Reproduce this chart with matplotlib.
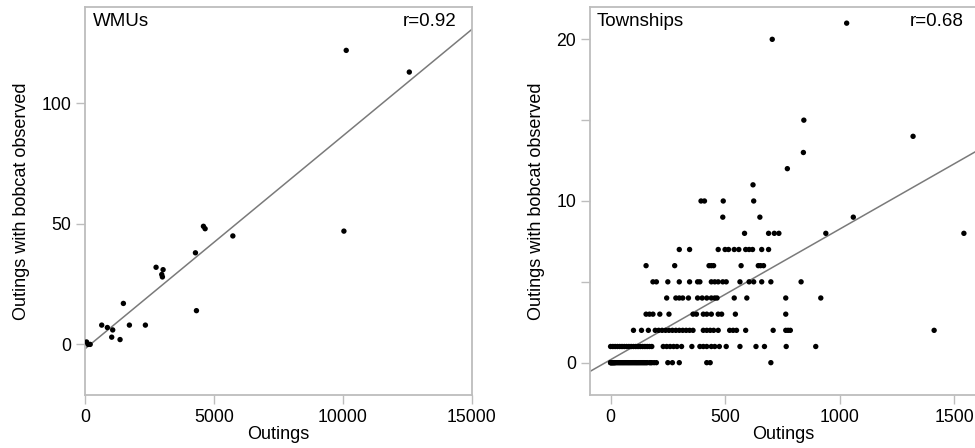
import numpy as np
import matplotlib
matplotlib.use("Agg")
import matplotlib.pyplot as plt

plt.rcParams['font.family'] = ['Liberation Sans', 'DejaVu Sans']
plt.rcParams['font.size'] = 13

# WMUs: outings vs outings with bobcat observed
wmu_x = [10125, 12570, 10035, 4590, 4655, 5730, 4280, 2754, 3026, 2974, 3000,
         1487, 4319, 647, 866, 1073, 1720, 2340, 1034, 1358, 60, 200, 120]
wmu_y = [122, 113, 47, 49, 48, 45, 38, 32, 31, 29, 28,
         17, 14, 8, 7, 6, 8, 8, 3, 2, 1, 0, 0]

# Townships, one list of outings per count of outings with bobcat observed
town_rows = {
    0: [0, 0, 3, 5, 8, 10, 12, 15, 18, 20, 25, 30, 35, 40, 45, 50, 55, 60, 65,
        70, 75, 80, 85, 90, 95, 100, 105, 110, 115, 120, 125, 130, 135, 140,
        145, 150, 155, 160, 170, 175, 180, 190, 200, 250, 270, 300, 420, 435,
        700],
    1: [0, 10, 20, 30, 40, 50, 60, 70, 80, 90, 100, 110, 120, 130, 140, 150,
        160, 170, 180, 230, 245, 260, 275, 290, 310, 355, 390, 405, 420, 440,
        455, 475, 505, 565, 635, 672, 767, 896],
    2: [100, 135, 165, 195, 210, 225, 240, 255, 270, 285, 300, 315, 330, 345,
        360, 405, 420, 435, 450, 470, 520, 535, 550, 590, 710, 765, 775, 785,
        1413],
    3: [155, 170, 185, 215, 255, 360, 375, 405, 420, 440, 470, 485, 545, 765],
    4: [245, 285, 300, 315, 340, 380, 400, 420, 440, 455, 465, 540, 595, 765,
        918],
    5: [185, 200, 250, 300, 345, 380, 390, 440, 455, 470, 490, 505, 565, 605,
        625, 660, 700, 832],
    6: [155, 280, 430, 440, 450, 570, 645, 655, 668],
    7: [300, 345, 470, 500, 515, 540, 560, 590, 605, 620, 660, 690],
    8: [585, 690, 715, 735, 940, 1543],
    9: [490, 652, 1060],
    10: [395, 410, 492, 625],
    11: [622],
    12: [772],
    13: [842],
    14: [1321],
    15: [844],
    20: [706],
    21: [1031],
}
town_x = [x for k, xs in town_rows.items() for x in xs]
town_y = [k for k, xs in town_rows.items() for x in xs]

spine_col = '#bdbdbd'
line_col = '#7a7a7a'

fig = plt.figure(figsize=(9.75, 4.48), dpi=100)
ax1 = fig.add_axes([0.0872, 0.1183, 0.3969, 0.8661])
ax2 = fig.add_axes([0.6051, 0.1183, 0.3969, 0.8661])


def style(ax):
    for s in ax.spines.values():
        s.set_color(spine_col)
        s.set_linewidth(1.3)
    ax.tick_params(axis='both', direction='out', length=6.5, width=1,
                   color=spine_col, labelcolor='black', labelsize=12.7, pad=3.5)


# left panel
ax1.scatter(wmu_x, wmu_y, s=15, c='black', edgecolors='none', zorder=3)
m1, b1 = np.polyfit(wmu_x, wmu_y, 1)
ax1.axline((0, b1), slope=m1, color=line_col, lw=1.1, zorder=2)
ax1.set_xlim(0, 15000)
ax1.set_ylim(-21, 140)
ax1.set_xticks([0, 5000, 10000, 15000])
ax1.set_yticks([0, 50, 100])
ax1.set_xlabel("Outings", labelpad=0)
ax1.set_ylabel("Outings with bobcat observed", labelpad=8)
ax1.text(0.02, 0.985, "WMUs", transform=ax1.transAxes, ha='left', va='top',
         fontsize=13.5)
ax1.text(0.961, 0.985, "r=0.92", transform=ax1.transAxes, ha='right', va='top',
         fontsize=13.5)
style(ax1)

# right panel
ax2.scatter(town_x, town_y, s=15, c='black', edgecolors='none', zorder=3)
m2, b2 = np.polyfit(town_x, town_y, 1)
ax2.axline((0, b2), slope=m2, color=line_col, lw=1.1, zorder=2)
ax2.set_xlim(-90, 1600)
ax2.set_ylim(-2, 22)
ax2.set_xticks([0, 500, 1000, 1500])
ax2.set_yticks([0, 5, 10, 15, 20])
ax2.set_yticklabels(['0', '', '10', '', '20'])
ax2.set_xlabel("Outings", labelpad=0)
ax2.set_ylabel("Outings with bobcat observed", labelpad=8)
ax2.text(0.017, 0.985, "Townships", transform=ax2.transAxes, ha='left', va='top',
         fontsize=13.5)
ax2.text(0.965, 0.985, "r=0.68", transform=ax2.transAxes, ha='right', va='top',
         fontsize=13.5)
style(ax2)

fig.savefig("out.png", dpi=100)
